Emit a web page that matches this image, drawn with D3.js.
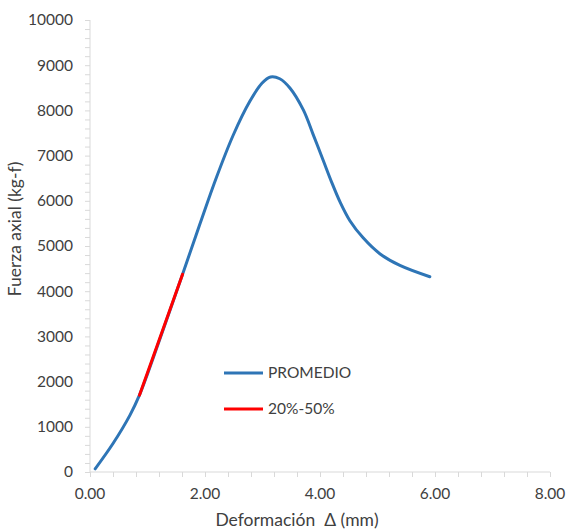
<!DOCTYPE html>
<html>
<head>
<meta charset="utf-8">
<script src="https://cdn.jsdelivr.net/npm/d3@7"></script>
<style>
  html, body { margin: 0; padding: 0; background: #fff; }
  svg { display: block; }
</style>
</head>
<body>
<svg id="chart" width="569" height="531"></svg>
<script>
// ---- Data ----
const promedioX = [0.09, 0.40, 0.70, 0.86, 1.00, 1.22, 1.61, 1.91, 2.20, 2.49, 2.78, 2.99, 3.14, 3.30, 3.48, 3.71, 3.88, 4.06, 4.20, 4.35, 4.52, 4.75, 5.04, 5.39, 5.91];
const promedioY = [70, 630, 1270, 1700, 2170, 2960, 4375, 5480, 6520, 7450, 8200, 8600, 8740, 8700, 8490, 8010, 7470, 6880, 6420, 5970, 5560, 5180, 4830, 4570, 4320];
const rangoX = [0.86, 1.61];
const rangoY = [1700, 4375];
const xTicks = [0, 2, 4, 6, 8];
const yTicks = [0, 1000, 2000, 3000, 4000, 5000, 6000, 7000, 8000, 9000, 10000];
const seriesNames = ["PROMEDIO", "20%-50%"];
const seriesColors = ["#2e75b6", "#ff0000"];

// ---- Layout ----
const svg = d3.select("#chart");
const x = d3.scaleLinear().domain([0, 8]).range([90, 550]);
const y = d3.scaleLinear().domain([0, 10000]).range([472, 20]);
const axisColor = "#d9d9d9";
const textColor = "#404040";
const font = "Lato, 'Liberation Sans', sans-serif";

// minor ticks
const xMinor = d3.range(0, 8.0001, 0.4);
const yMinor = d3.range(0, 10001, 200);

const gx = svg.append("g").attr("transform", `translate(0,${y(0)})`);
gx.call(d3.axisBottom(x).tickValues(xMinor).tickSize(5).tickFormat(""));
gx.select(".domain").remove();
gx.selectAll("line").attr("stroke", axisColor);
gx.append("line").attr("x1", x(0)).attr("x2", x(8)).attr("stroke", axisColor);

const gy = svg.append("g").attr("transform", `translate(${x(0)},0)`);
gy.call(d3.axisLeft(y).tickValues(yMinor).tickSize(5).tickFormat(""));
gy.select(".domain").remove();
gy.selectAll("line").attr("stroke", axisColor);
gy.append("line").attr("y1", y(0)).attr("y2", y(10000)).attr("stroke", axisColor);

// tick labels
svg.append("g").selectAll("text").data(xTicks).join("text")
  .attr("x", d => x(d)).attr("y", y(0) + 27)
  .attr("text-anchor", "middle")
  .attr("font-family", font).attr("font-size", 15.5).attr("fill", textColor)
  .text(d => d3.format(".2f")(d));

svg.append("g").selectAll("text").data(yTicks).join("text")
  .attr("x", 73).attr("y", d => y(d)).attr("dy", "0.35em")
  .attr("text-anchor", "end")
  .attr("font-family", font).attr("font-size", 15.5).attr("fill", textColor)
  .text(d => d);

// axis titles
svg.append("text")
  .attr("x", 297).attr("y", 526)
  .attr("text-anchor", "middle")
  .attr("font-family", font).attr("font-size", 17.5).attr("fill", textColor)
  .attr("xml:space", "preserve")
  .text("Deformación  Δ (mm)");

svg.append("text")
  .attr("transform", "translate(21,229) rotate(-90)")
  .attr("text-anchor", "middle")
  .attr("font-family", font).attr("font-size", 17.5).attr("fill", textColor)
  .text("Fuerza axial (kg-f)");

// series
const prom = promedioX.map((d, i) => [d, promedioY[i]]);
const rango = rangoX.map((d, i) => [d, rangoY[i]]);
const line = d3.line().x(d => x(d[0])).y(d => y(d[1])).curve(d3.curveCatmullRom.alpha(0.5));

svg.append("path").datum(prom).attr("d", line)
  .attr("fill", "none").attr("stroke", seriesColors[0]).attr("stroke-width", 3)
  .attr("stroke-linecap", "round").attr("stroke-linejoin", "round");

svg.append("path").datum(rango).attr("d", d3.line().x(d => x(d[0])).y(d => y(d[1])))
  .attr("fill", "none").attr("stroke", seriesColors[1]).attr("stroke-width", 3)
  .attr("stroke-linecap", "round");

// legend
const legY = [373, 409];
const leg = svg.append("g");
seriesNames.forEach((n, i) => {
  leg.append("line").attr("x1", 224).attr("x2", 263).attr("y1", legY[i]).attr("y2", legY[i])
    .attr("stroke", seriesColors[i]).attr("stroke-width", 3);
  leg.append("text").attr("x", 268).attr("y", legY[i]).attr("dy", "0.35em")
    .attr("font-family", font).attr("font-size", 15.5).attr("fill", textColor)
    .text(n);
});
</script>
</body>
</html>
